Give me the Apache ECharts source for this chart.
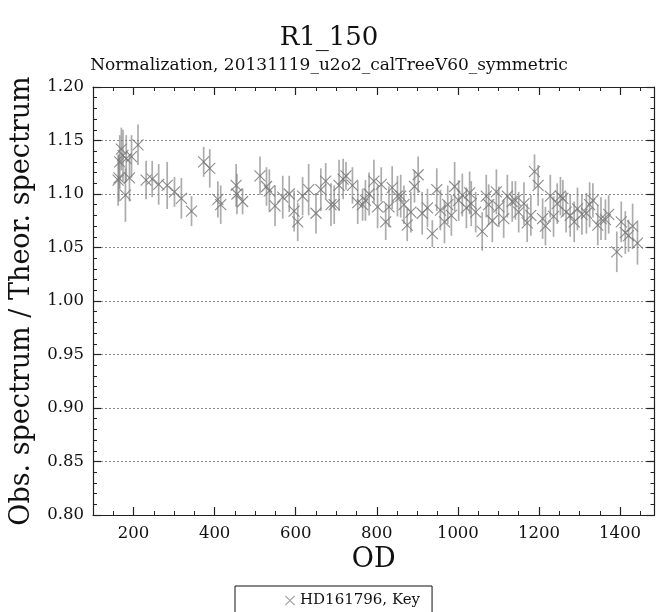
<!DOCTYPE html>
<html>
<head>
<meta charset="utf-8">
<script src="https://cdn.jsdelivr.net/npm/echarts@6/dist/echarts.min.js"></script>
<style>
  html, body { margin: 0; padding: 0; background: #fff; }
  #chart { width: 658px; height: 612px; }
</style>
</head>
<body>
<div id="chart"></div>
<script>
// Observation day of each calibration measurement
const od = [
  162, 164, 166, 170, 174, 180, 182, 190, 195, 211,
  231, 246, 262, 283, 301, 318, 343, 373, 388, 408,
  415, 453, 455, 469, 512, 528, 535, 549, 568, 584,
  596, 605, 617, 632, 650, 662, 674, 687, 695, 707,
  717, 724, 740, 753, 765, 772, 781, 793, 802, 811,
  822, 830, 838, 851, 859, 867, 875, 884, 893, 902,
  912, 925, 937, 948, 957, 967, 975, 984, 992, 1002,
  1011, 1021, 1029, 1033, 1044, 1060, 1070, 1076, 1085, 1095,
  1101, 1113, 1122, 1134, 1142, 1150, 1163, 1171, 1180, 1189,
  1198, 1209, 1216, 1228, 1236, 1245, 1253, 1259, 1267, 1277,
  1287, 1295, 1306, 1317, 1325, 1333, 1345, 1353, 1364, 1372,
  1392, 1403, 1413, 1421, 1431, 1443
];
// Observed / theoretical spectrum ratio
const ratio = [
  1.113, 1.115, 1.130, 1.142, 1.136, 1.099, 1.133, 1.115, 1.135, 1.146,
  1.113, 1.114, 1.109, 1.108, 1.102, 1.096, 1.084, 1.130, 1.124, 1.095,
  1.090, 1.108, 1.100, 1.093, 1.117, 1.107, 1.103, 1.089, 1.097, 1.100,
  1.084, 1.074, 1.098, 1.104, 1.082, 1.104, 1.112, 1.090, 1.090, 1.108,
  1.114, 1.117, 1.108, 1.092, 1.090, 1.094, 1.100, 1.112, 1.088, 1.109,
  1.074, 1.088, 1.106, 1.098, 1.098, 1.090, 1.071, 1.083, 1.107, 1.118,
  1.082, 1.087, 1.063, 1.104, 1.085, 1.074, 1.090, 1.080, 1.107, 1.094,
  1.099, 1.087, 1.101, 1.091, 1.083, 1.065, 1.098, 1.090, 1.075, 1.102,
  1.088, 1.077, 1.098, 1.093, 1.094, 1.083, 1.091, 1.073, 1.080, 1.121,
  1.108, 1.077, 1.070, 1.098, 1.079, 1.091, 1.098, 1.096, 1.083, 1.080,
  1.074, 1.086, 1.081, 1.082, 1.090, 1.094, 1.071, 1.077, 1.076, 1.081,
  1.046, 1.074, 1.064, 1.061, 1.070, 1.054
];
// Half-length of each error bar
const ratioErr = [
  0.024, 0.022, 0.025, 0.020, 0.024, 0.025, 0.022, 0.022, 0.020, 0.019,
  0.018, 0.017, 0.019, 0.022, 0.014, 0.019, 0.014, 0.014, 0.018, 0.017,
  0.018, 0.020, 0.019, 0.012, 0.018, 0.018, 0.020, 0.019, 0.020, 0.017,
  0.019, 0.018, 0.018, 0.024, 0.019, 0.020, 0.017, 0.020, 0.018, 0.024,
  0.019, 0.013, 0.017, 0.020, 0.015, 0.019, 0.020, 0.020, 0.020, 0.016,
  0.017, 0.019, 0.020, 0.019, 0.020, 0.018, 0.015, 0.019, 0.015, 0.017,
  0.020, 0.018, 0.0125, 0.020, 0.019, 0.020, 0.018, 0.019, 0.023, 0.019,
  0.020, 0.019, 0.020, 0.021, 0.019, 0.018, 0.020, 0.019, 0.020, 0.021,
  0.019, 0.018, 0.020, 0.019, 0.018, 0.019, 0.020, 0.018, 0.019, 0.016,
  0.019, 0.019, 0.018, 0.020, 0.019, 0.019, 0.018, 0.017, 0.019, 0.020,
  0.019, 0.020, 0.019, 0.019, 0.021, 0.016, 0.019, 0.020, 0.019, 0.018,
  0.019, 0.019, 0.020, 0.015, 0.021, 0.020
];
// Labelled major ticks on the OD axis
const odMajorTicks = [200, 400, 600, 800, 1000, 1200, 1400];

const seriesName = 'HD161796, Key';
const serif = 'DejaVu Serif';
const frameColor = '#222';

const points = od.map((x, i) => [x, ratio[i], ratioErr[i]]);

const chart = echarts.init(document.getElementById('chart'), null, { renderer: 'canvas' });

function odAxis(position, major) {
  return {
    type: 'value',
    position: position,
    min: 100,
    max: 1485,
    interval: 50,
    axisLine: { show: !major, onZero: false, lineStyle: { color: frameColor, width: 1.2 } },
    axisTick: major
      ? { show: true, inside: true, length: 8, customValues: odMajorTicks, lineStyle: { color: frameColor, width: 1.2 } }
      : { show: true, inside: true, length: 4, lineStyle: { color: frameColor, width: 1 } },
    axisLabel: (major && position === 'bottom')
      ? { show: true, customValues: odMajorTicks, margin: 10, color: '#111', fontFamily: serif, fontSize: 16.5,
          formatter: v => String(v) }
      : { show: false },
    splitLine: { show: false },
    name: (major && position === 'bottom') ? 'OD' : '',
    nameLocation: 'middle',
    nameGap: 30,
    nameTextStyle: { color: '#111', fontFamily: serif, fontSize: 27 }
  };
}

function ratioAxis(position) {
  const left = position === 'left';
  return {
    type: 'value',
    position: position,
    min: 0.8,
    max: 1.2,
    interval: 0.05,
    axisLine: { show: true, onZero: false, lineStyle: { color: frameColor, width: 1.2 } },
    axisTick: { show: true, inside: true, length: 8, lineStyle: { color: frameColor, width: 1.2 } },
    minorTick: { show: true, splitNumber: 5, length: 4, lineStyle: { color: frameColor, width: 1 } },
    axisLabel: left
      ? { show: true, margin: 9, color: '#111', fontFamily: serif, fontSize: 16.5, formatter: v => v.toFixed(2) }
      : { show: false },
    splitLine: left
      ? { show: true, lineStyle: { color: '#8a8a8a', width: 1, type: [2, 2] } }
      : { show: false },
    name: left ? 'Obs. spectrum / Theor. spectrum' : '',
    nameLocation: 'middle',
    nameGap: 58,
    nameTextStyle: { color: '#111', fontFamily: serif, fontSize: 27 }
  };
}

const crossIcon = 'path://M0,0.7L0.7,0L10,9.3L9.3,10Z M9.3,0L10,0.7L0.7,10L0,9.3Z';

chart.setOption({
  animation: false,
  backgroundColor: '#fff',
  title: [
    {
      text: 'R1_150',
      left: 'center',
      top: 20,
      textStyle: { fontFamily: serif, fontWeight: 'normal', fontSize: 26, color: '#111' }
    },
    {
      text: 'Normalization, 20131119_u2o2_calTreeV60_symmetric',
      left: 'center',
      top: 52,
      textStyle: { fontFamily: serif, fontWeight: 'normal', fontSize: 17, color: '#111' }
    }
  ],
  grid: { left: 91.5, right: 3.5, top: 87, bottom: 97, containLabel: false },
  xAxis: [
    odAxis('bottom', false),
    odAxis('bottom', true),
    odAxis('top', false),
    odAxis('top', true)
  ],
  yAxis: [ratioAxis('left'), ratioAxis('right')],
  legend: {
    left: 235,
    top: 586,
    orient: 'vertical',
    padding: [7, 12, 12, 50],
    borderColor: '#111',
    borderWidth: 1,
    borderRadius: 0,
    itemWidth: 10,
    itemHeight: 10,
    itemGap: 6,
    textStyle: { fontFamily: serif, fontSize: 15, color: '#111' },
    data: [{ name: seriesName, icon: crossIcon, itemStyle: { color: '#999' } }]
  },
  series: [
    {
      name: seriesName,
      type: 'custom',
      xAxisIndex: 0,
      yAxisIndex: 0,
      data: points,
      encode: { x: 0, y: 1 },
      itemStyle: { color: '#999' },
      renderItem: function (params, api) {
        const x = api.value(0);
        const y = api.value(1);
        const e = api.value(2);
        const c = api.coord([x, y]);
        const top = api.coord([x, y + e]);
        const bot = api.coord([x, y - e]);
        const s = 5.5;
        return {
          type: 'group',
          children: [
            {
              type: 'line',
              shape: { x1: c[0], y1: top[1], x2: c[0], y2: bot[1] },
              style: { stroke: 'rgba(128,128,128,0.65)', lineWidth: 1.7 }
            },
            {
              type: 'line',
              shape: { x1: c[0] - s, y1: c[1] - s, x2: c[0] + s, y2: c[1] + s },
              style: { stroke: 'rgba(120,120,120,0.85)', lineWidth: 1.1 }
            },
            {
              type: 'line',
              shape: { x1: c[0] - s, y1: c[1] + s, x2: c[0] + s, y2: c[1] - s },
              style: { stroke: 'rgba(120,120,120,0.85)', lineWidth: 1.1 }
            }
          ]
        };
      }
    }
  ]
});
</script>
</body>
</html>
